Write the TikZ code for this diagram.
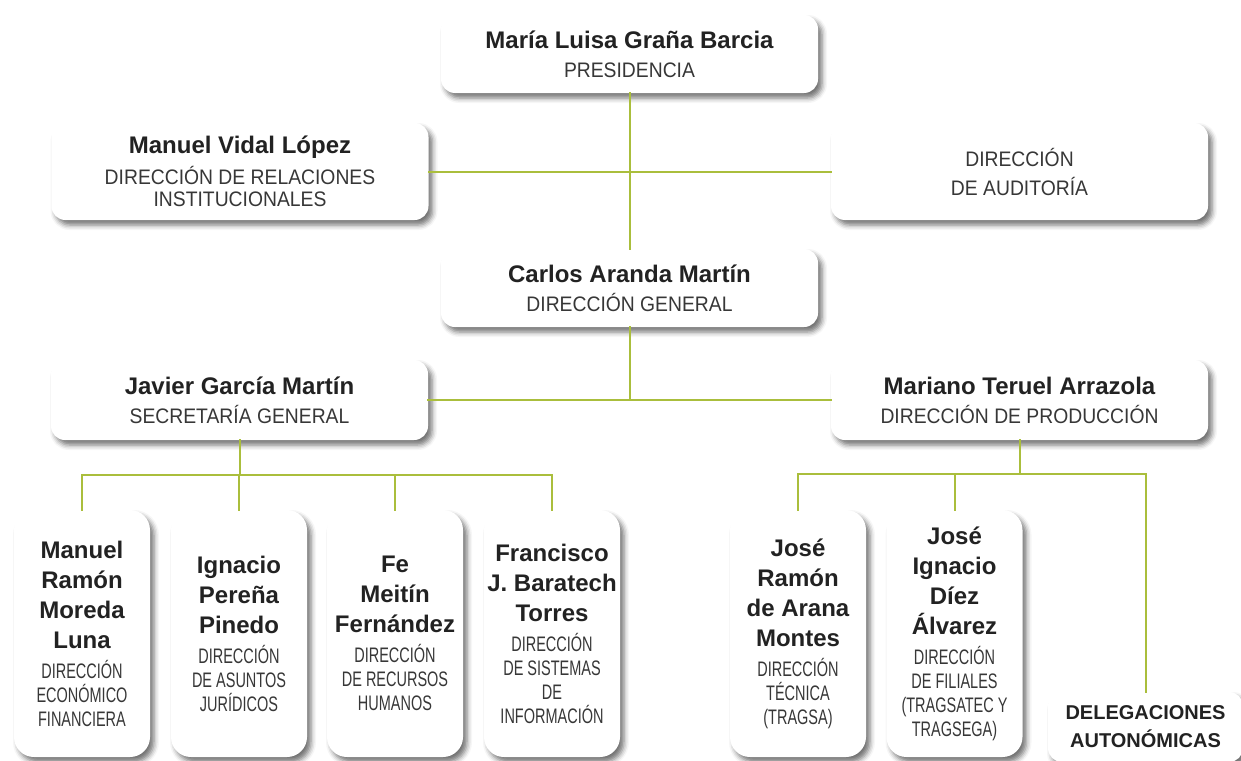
\documentclass[tikz,border=0pt]{standalone}
\usepackage{fontspec}
\setmainfont{Liberation Sans}
\newfontfamily\rolefam[FakeStretch=0.92]{Liberation Sans}
\newfontfamily\narrowfam[FakeStretch=0.69]{Liberation Sans}
\usetikzlibrary{positioning,shadows.blur}

\definecolor{lijngroen}{RGB}{170,190,60}
\definecolor{naamkleur}{RGB}{34,34,34}
\definecolor{rolkleur}{RGB}{55,55,55}

% naam in vet
\newcommand{\nm}[1]{{\normalfont\bfseries\color{naamkleur}\fontsize{24}{30}\selectfont #1}}

\tikzset{
	box/.style={rounded corners=14pt, fill=white, align=center, inner sep=0pt, text=rolkleur,
			blur shadow={shadow xshift=4pt, shadow yshift=-5pt, shadow blur radius=5pt, shadow opacity=55}},
	widebox/.style={box, minimum width=377pt, font=\rolefam\fontsize{21}{22}\selectfont},
	smallbox/.style={box, rounded corners=20pt, minimum width=136pt, minimum height=247pt,
			font=\narrowfam\fontsize{21}{24}\selectfont},
	conn/.style={draw=lijngroen, line width=2pt, line cap=rect},
}

\begin{document}
\begin{tikzpicture}[x=1pt, y=-1pt]
	\useasboundingbox (0,0) rectangle (1241,760);

	% --- Presidencia en directie ---
	\node[widebox, minimum height=78pt] (pres) at (629.5,54) {\nm{María Luisa Graña Barcia}\\[7pt]PRESIDENCIA};
	\node[widebox, minimum height=97pt] (relinst) at (240,171.5) {\nm{Manuel Vidal López}\\[7pt]DIRECCIÓN DE RELACIONES\\INSTITUCIONALES};
	\node[widebox, minimum height=97pt] (audit) at (1019.5,171.5) {DIRECCIÓN\\[7pt]DE AUDITORÍA};
	\node[widebox, minimum height=78pt] (dirgen) at (629.5,288) {\nm{Carlos Aranda Martín}\\[7pt]DIRECCIÓN GENERAL};
	\node[widebox, minimum height=80pt] (secgen) at (239.5,400) {\nm{Javier García Martín}\\[7pt]SECRETARÍA GENERAL};
	\node[widebox, minimum height=80pt] (prod) at (1019.5,400) {\nm{Mariano Teruel Arrazola}\\[7pt]DIRECCIÓN DE PRODUCCIÓN};

	% --- Directies onder secretaría general ---
	\node[smallbox] (econ) at (82,633.5) {\nm{Manuel}\\[6pt]\nm{Ramón}\\[6pt]\nm{Moreda}\\[6pt]\nm{Luna}\\[6pt]DIRECCIÓN\\ECONÓMICO\\FINANCIERA};
	\node[smallbox] (jurid) at (239,633.5) {\nm{Ignacio}\\[6pt]\nm{Pereña}\\[6pt]\nm{Pinedo}\\[6pt]DIRECCIÓN\\DE ASUNTOS\\JURÍDICOS};
	\node[smallbox] (rrhh) at (395,633.5) {\nm{Fe}\\[6pt]\nm{Meitín}\\[6pt]\nm{Fernández}\\[6pt]DIRECCIÓN\\DE RECURSOS\\HUMANOS};
	\node[smallbox] (sist) at (552,633.5) {\nm{Francisco}\\[6pt]\nm{J. Baratech}\\[6pt]\nm{Torres}\\[6pt]DIRECCIÓN\\DE SISTEMAS\\DE\\INFORMACIÓN};

	% --- Directies onder producción ---
	\node[smallbox] (tecn) at (798,633.5) {\nm{José}\\[6pt]\nm{Ramón}\\[6pt]\nm{de Arana}\\[6pt]\nm{Montes}\\[6pt]DIRECCIÓN\\TÉCNICA\\(TRAGSA)};
	\node[smallbox] (filial) at (954.5,633.5) {\nm{José}\\[6pt]\nm{Ignacio}\\[6pt]\nm{Díez}\\[6pt]\nm{Álvarez}\\[6pt]DIRECCIÓN\\DE FILIALES\\(TRAGSATEC Y\\TRAGSEGA)};
	\node[box, minimum width=195pt, minimum height=70pt, text=naamkleur, font=\bfseries\fontsize{20}{28}\selectfont] (deleg) at (1145.5,727) {DELEGACIONES\\AUTONÓMICAS};

	% --- Verbindingen ---
	\draw[conn] (pres.south) -- (dirgen.north);
	\draw[conn] (relinst.east) -- (audit.west);
	\draw[conn] (dirgen.south) -- (dirgen.south |- secgen.east);
	\draw[conn] (secgen.east) -- (prod.west);

	% verdeellijn links
	\draw[conn] (secgen.south) -- ++(0,35) coordinate (busl);
	\draw[conn] (busl -| econ.north) -- (busl -| sist.north);
	\foreach \b in {econ,jurid,rrhh,sist}
		\draw[conn] (busl -| \b.north) -- (\b.north);

	% verdeellijn rechts
	\draw[conn] (prod.south) -- ++(0,34) coordinate (busr);
	\draw[conn] (busr -| tecn.north) -- (busr -| deleg.north);
	\foreach \b in {tecn,filial,deleg}
		\draw[conn] (busr -| \b.north) -- (\b.north);

\end{tikzpicture}
\end{document}
